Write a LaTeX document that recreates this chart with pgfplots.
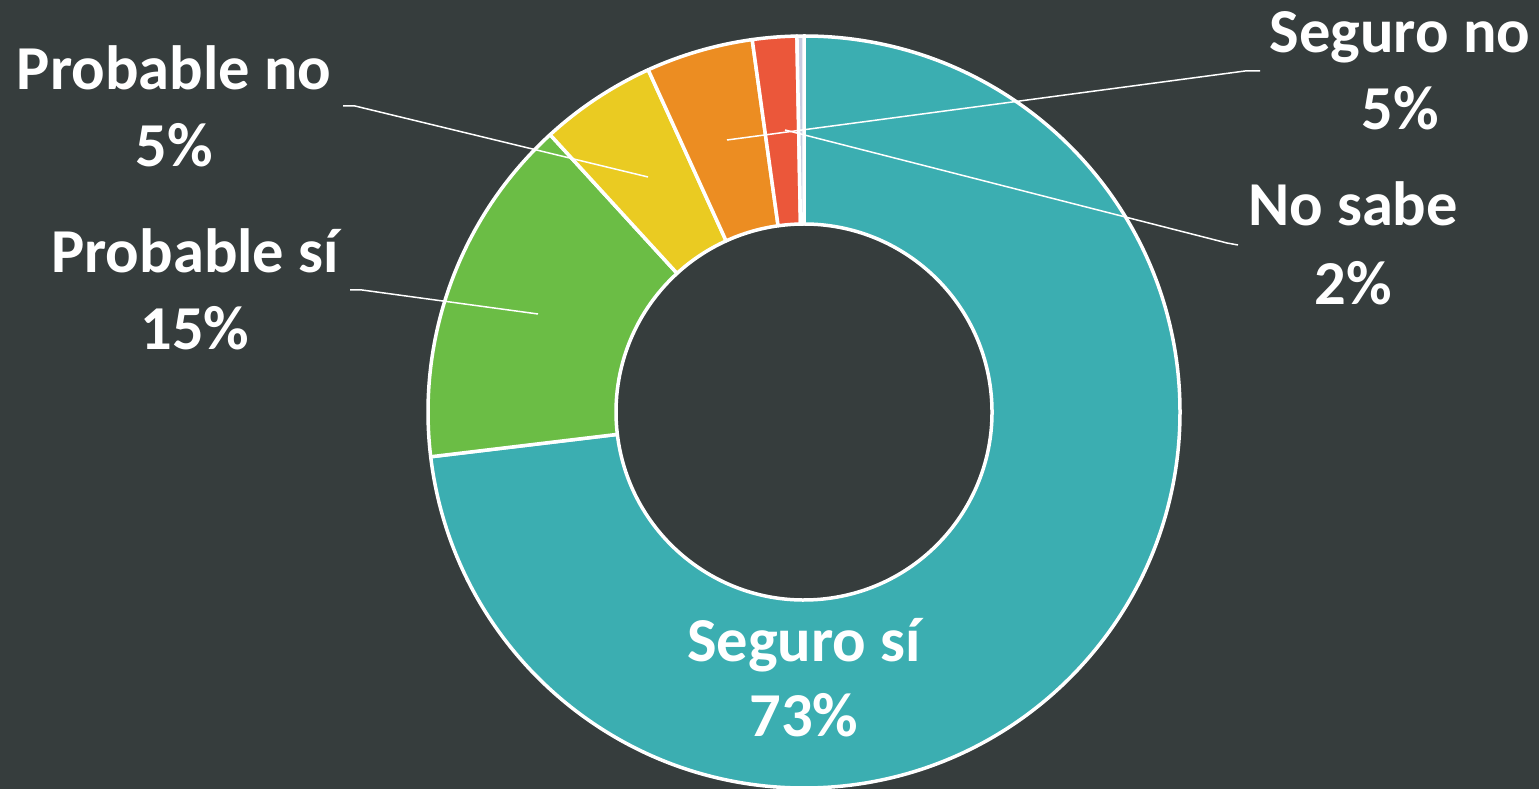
\documentclass[border=0pt]{standalone}
\usepackage{pgfplots}
\pgfplotsset{compat=1.18}
\usepackage{pgfplotstable}
\usepackage{fontspec}
\setmainfont{Carlito}
\definecolor{bg}{HTML}{363D3D}
\definecolor{cA}{HTML}{3BAEB1}
\definecolor{cB}{HTML}{6BBD45}
\definecolor{cC}{HTML}{EACB22}
\definecolor{cD}{HTML}{EC8D22}
\definecolor{cE}{HTML}{EB573A}
\definecolor{cF}{HTML}{C8CCE0}
\pgfplotstableread{
label value
SeguroSi 73.1
ProbableSi 15.1
ProbableNo 5.0
SeguroNo 4.6
NoSabe 1.9
Otro 0.3
}\shares
\newcommand\ringslice[3]{%
  \filldraw[fill=#3, draw=white, line width=3.5pt, line join=round]
    (axis cs:804,377) ++(#1:376pt) arc[start angle=#1, end angle=#2, radius=376pt]
    -- ++(#2:-188pt) arc[start angle=#2, end angle=#1, radius=188pt] -- cycle;}
\begin{document}
\begin{tikzpicture}
% cumulative angles (clockwise from 12 o'clock)
\pgfplotstablegetelem{0}{value}\of\shares\pgfmathsetmacro\aA{90}\pgfmathsetmacro\aB{\aA-3.6*\pgfplotsretval}
\pgfplotstablegetelem{1}{value}\of\shares\pgfmathsetmacro\aC{\aB-3.6*\pgfplotsretval}
\pgfplotstablegetelem{2}{value}\of\shares\pgfmathsetmacro\aD{\aC-3.6*\pgfplotsretval}
\pgfplotstablegetelem{3}{value}\of\shares\pgfmathsetmacro\aE{\aD-3.6*\pgfplotsretval}
\pgfplotstablegetelem{4}{value}\of\shares\pgfmathsetmacro\aF{\aE-3.6*\pgfplotsretval}
\pgfplotstablegetelem{5}{value}\of\shares\pgfmathsetmacro\aG{\aF-3.6*\pgfplotsretval}
\begin{axis}[
  x=1pt, y=1pt,
  xmin=0, xmax=1539, ymin=0, ymax=789,
  hide axis, clip=false,
]
\fill[bg] (axis cs:0,0) rectangle (axis cs:1539,789);
\ringslice{\aA}{\aB}{cA}
\ringslice{\aB}{\aC}{cB}
\ringslice{\aC}{\aD}{cC}
\ringslice{\aD}{\aE}{cD}
\ringslice{\aE}{\aF}{cE}
\ringslice{\aF}{\aG}{cF}
% leader lines
\draw[white, line width=1.5pt] (axis cs:343,683) -- (axis cs:355,683) -- (axis cs:648,612);
\draw[white, line width=1.5pt] (axis cs:350,499) -- (axis cs:362,499) -- (axis cs:538,475);
\draw[white, line width=1.5pt] (axis cs:1260,718) -- (axis cs:1245,718) -- (axis cs:727,649);
\draw[white, line width=1.5pt] (axis cs:1238,544) -- (axis cs:1227,546) -- (axis cs:785,659);
% labels
\tikzset{lab/.style={anchor=base, inner sep=0pt, text=white, font=\bfseries\fontsize{62.5}{77}\selectfont}}
\node[lab] at (axis cs:174,699) {Probable no};
\node[lab] at (axis cs:174,622) {5\%};
\node[lab] at (axis cs:195,516) {Probable sí};
\node[lab] at (axis cs:195,439) {15\%};
\node[lab] at (axis cs:1400,736) {Seguro no};
\node[lab] at (axis cs:1400,659) {5\%};
\node[lab] at (axis cs:1353,563) {No sabe};
\node[lab] at (axis cs:1353,484) {2\%};
\node[lab] at (axis cs:804,127) {Seguro sí};
\node[lab] at (axis cs:804,52) {73\%};
\end{axis}
\end{tikzpicture}
\end{document}
